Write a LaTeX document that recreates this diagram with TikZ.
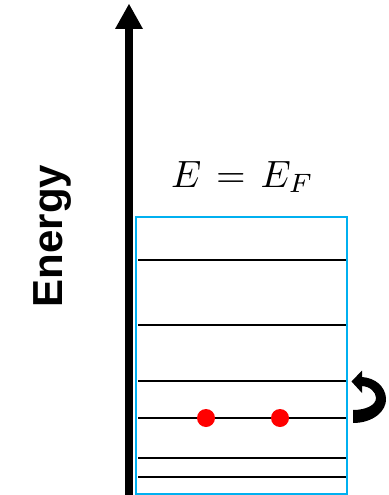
\documentclass[tikz,border=0pt]{standalone}
\usepackage{fontspec}
\newfontfamily\labelfont{Liberation Sans}
\definecolor{boxcyan}{HTML}{00B0F0}
\definecolor{dotred}{HTML}{FF0000}
\tikzset{
  level/.style={line width=2pt, black},
  electron/.style={circle, fill=dotred, inner sep=0pt, minimum size=18pt},
  wellbox/.style={draw=boxcyan, line width=2pt}
}
\begin{document}
\begin{tikzpicture}[x=1pt,y=-1pt]
\useasboundingbox (0,0) rectangle (388,495);
% energy axis
\coordinate (axisbot) at (129,495);
\coordinate (axistop) at (129,28);
\draw[line width=8pt] (axisbot) -- (axistop);
\fill (115,29) -- (129,4) -- (143,29) -- cycle;
\node[rotate=90, anchor=base, inner sep=0pt, font={\labelfont\bfseries\fontsize{42}{44}\selectfont}] (elabel) at (62,236) {Energy};
% box
\draw[wellbox] (136,217) rectangle (347,494);
% levels
\foreach \yy in {260,325,381,418,458,477} {
  \draw[level] (138,\yy) -- (346,\yy);
}
% electrons
\node[electron] (e1) at (206,418) {};
\node[electron] (e2) at (280,418) {};
% title
\node[anchor=base west, inner sep=0pt] (ef) at (171,187) {\scalebox{3.8}{$E\mkern2mu=\mkern2mu E_F$}};
% curved arrow
\fill (353,423) .. controls (373,423) and (387,411) .. (386,398)
      .. controls (385,386) and (375,378) .. (362,377)
      -- (362,370.5) -- (351.5,381.5) -- (362,393)
      -- (362,386) .. controls (370,386.5) and (376,392) .. (376,398)
      .. controls (376,405) and (366,410) .. (353,410) -- cycle;
\end{tikzpicture}
\end{document}
